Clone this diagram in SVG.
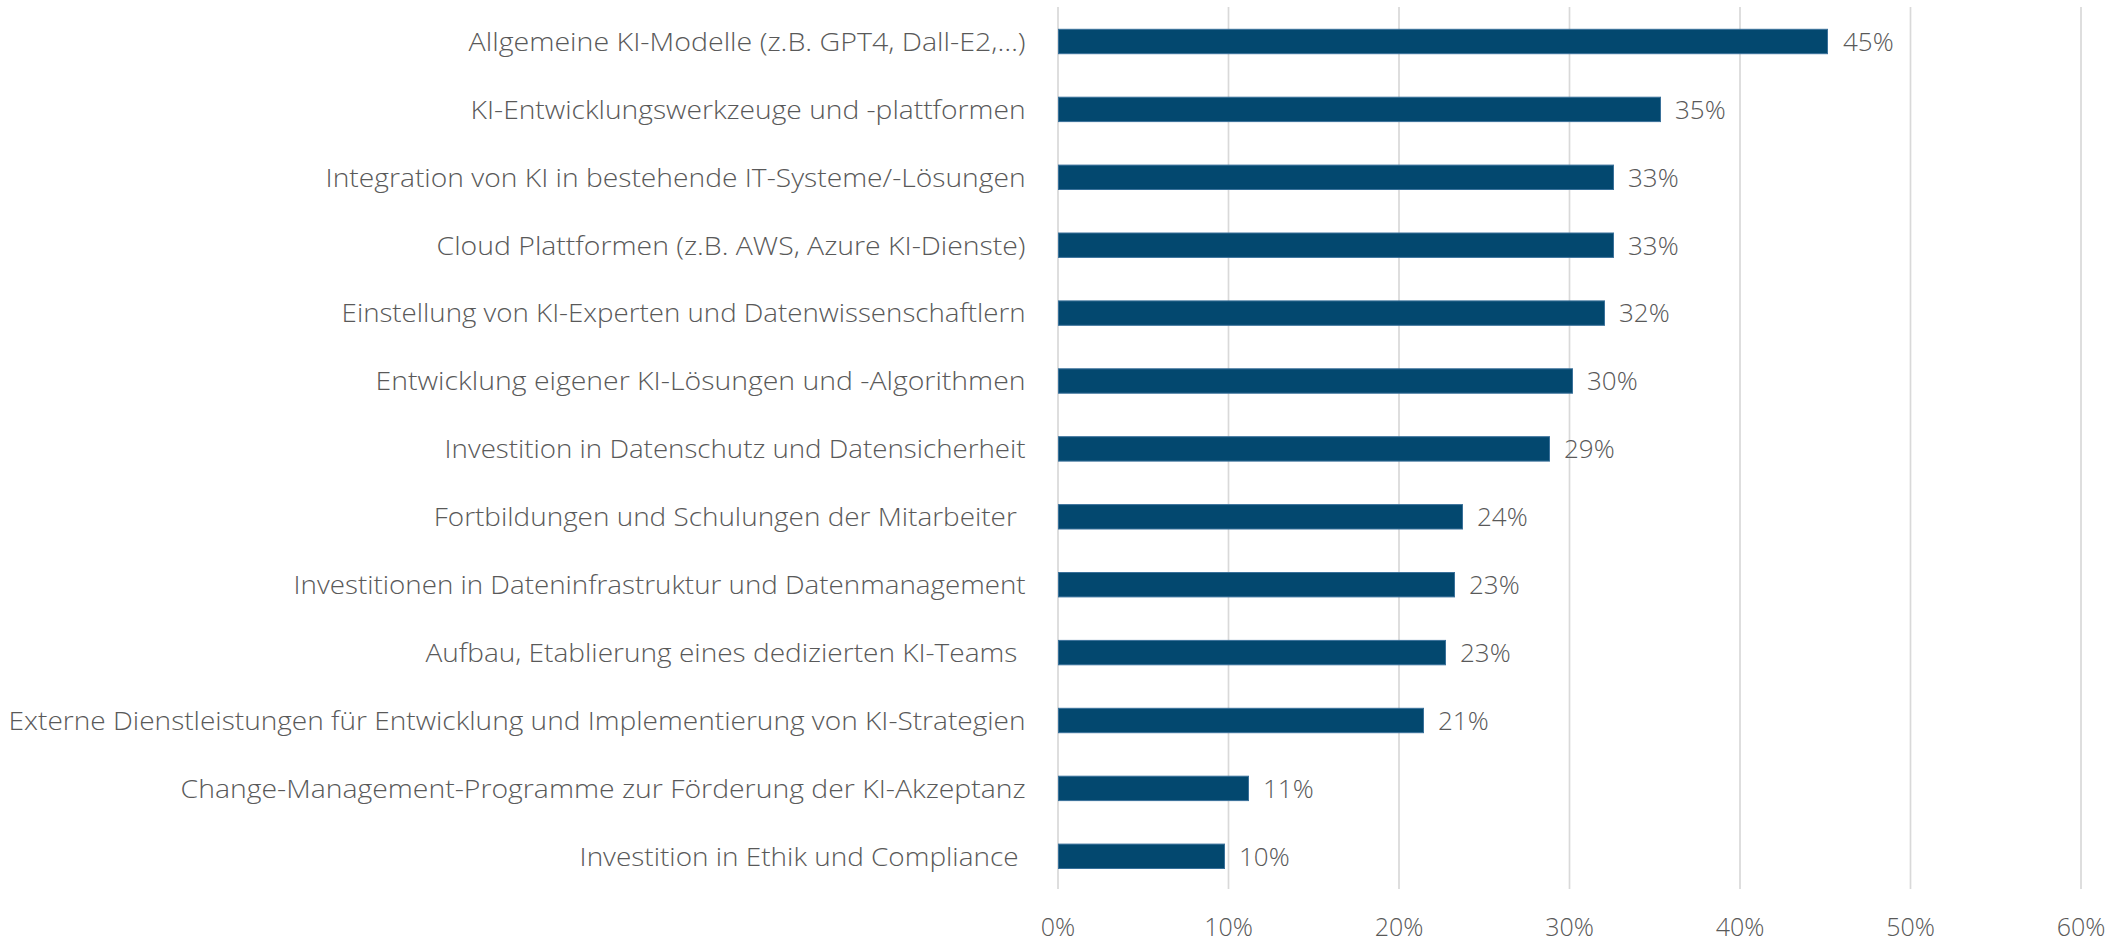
<svg xmlns="http://www.w3.org/2000/svg" width="2118" height="943" viewBox="0 0 2118 943">
<style>
.grid{stroke:#d9d9d9;stroke-width:1.7}
.bar{fill:#03486f;stroke:#3a719a;stroke-width:1}
.cat{font-family:"Open Sans","Liberation Sans",sans-serif;font-weight:300;font-size:26px;fill:#595959;text-anchor:end}
.val{font-family:"Open Sans","Liberation Sans",sans-serif;font-weight:300;font-size:26px;fill:#595959}
.ax{font-family:"Open Sans","Liberation Sans",sans-serif;font-weight:300;font-size:25px;fill:#595959;text-anchor:middle}
</style>
<rect width="2118" height="943" fill="#ffffff"/>
<g id="grid">
<line class="grid" x1="1058" y1="7" x2="1058" y2="889"/>
<line class="grid" x1="1228.5" y1="7" x2="1228.5" y2="889"/>
<line class="grid" x1="1399" y1="7" x2="1399" y2="889"/>
<line class="grid" x1="1569.5" y1="7" x2="1569.5" y2="889"/>
<line class="grid" x1="1740" y1="7" x2="1740" y2="889"/>
<line class="grid" x1="1910.5" y1="7" x2="1910.5" y2="889"/>
<line class="grid" x1="2081" y1="7" x2="2081" y2="889"/>
</g>
<g id="axis">
<text class="ax" x="1058" y="936">0%</text>
<text class="ax" x="1228.5" y="936">10%</text>
<text class="ax" x="1399" y="936">20%</text>
<text class="ax" x="1569.5" y="936">30%</text>
<text class="ax" x="1740" y="936">40%</text>
<text class="ax" x="1910.5" y="936">50%</text>
<text class="ax" x="2081" y="936">60%</text>
</g>
<g id="row1"><text class="cat" x="1025.6" y="50.8" textLength="557" lengthAdjust="spacingAndGlyphs">Allgemeine KI-Modelle (z.B. GPT4, Dall-E2,…)</text><rect class="bar" x="1058.5" y="29.3" width="769" height="24.4"/><text class="val" x="1843" y="50.8">45%</text></g>
<g id="row2"><text class="cat" x="1025.6" y="118.7" textLength="555" lengthAdjust="spacingAndGlyphs">KI-Entwicklungswerkzeuge und -plattformen</text><rect class="bar" x="1058.5" y="97.2" width="602" height="24.4"/><text class="val" x="1675" y="118.7">35%</text></g>
<g id="row3"><text class="cat" x="1025.6" y="186.6" textLength="700" lengthAdjust="spacingAndGlyphs">Integration von KI in bestehende IT-Systeme/-Lösungen</text><rect class="bar" x="1058.5" y="165.1" width="555" height="24.4"/><text class="val" x="1628" y="186.6">33%</text></g>
<g id="row4"><text class="cat" x="1025.6" y="254.5" textLength="589" lengthAdjust="spacingAndGlyphs">Cloud Plattformen (z.B. AWS, Azure KI-Dienste)</text><rect class="bar" x="1058.5" y="233" width="555" height="24.4"/><text class="val" x="1628" y="254.5">33%</text></g>
<g id="row5"><text class="cat" x="1025.6" y="322.4" textLength="684" lengthAdjust="spacingAndGlyphs">Einstellung von KI-Experten und Datenwissenschaftlern</text><rect class="bar" x="1058.5" y="300.9" width="546" height="24.4"/><text class="val" x="1619" y="322.4">32%</text></g>
<g id="row6"><text class="cat" x="1025.6" y="390.3" textLength="650" lengthAdjust="spacingAndGlyphs">Entwicklung eigener KI-Lösungen und -Algorithmen</text><rect class="bar" x="1058.5" y="368.8" width="514" height="24.4"/><text class="val" x="1587" y="390.3">30%</text></g>
<g id="row7"><text class="cat" x="1025.6" y="458.2" textLength="581" lengthAdjust="spacingAndGlyphs">Investition in Datenschutz und Datensicherheit</text><rect class="bar" x="1058.5" y="436.7" width="491" height="24.4"/><text class="val" x="1564" y="458.2">29%</text></g>
<g id="row8"><text class="cat" x="1016.8" y="526.1" textLength="583" lengthAdjust="spacingAndGlyphs">Fortbildungen und Schulungen der Mitarbeiter</text><rect class="bar" x="1058.5" y="504.6" width="404" height="24.4"/><text class="val" x="1477" y="526.1">24%</text></g>
<g id="row9"><text class="cat" x="1025.6" y="594" textLength="732" lengthAdjust="spacingAndGlyphs">Investitionen in Dateninfrastruktur und Datenmanagement</text><rect class="bar" x="1058.5" y="572.5" width="396" height="24.4"/><text class="val" x="1469" y="594">23%</text></g>
<g id="row10"><text class="cat" x="1017.4" y="661.9" textLength="592" lengthAdjust="spacingAndGlyphs">Aufbau, Etablierung eines dedizierten KI-Teams</text><rect class="bar" x="1058.5" y="640.4" width="387" height="24.4"/><text class="val" x="1460" y="661.9">23%</text></g>
<g id="row11"><text class="cat" x="1025.6" y="729.8" textLength="1017" lengthAdjust="spacingAndGlyphs">Externe Dienstleistungen für Entwicklung und Implementierung von KI-Strategien</text><rect class="bar" x="1058.5" y="708.3" width="365" height="24.4"/><text class="val" x="1438" y="729.8">21%</text></g>
<g id="row12"><text class="cat" x="1025.6" y="797.7" textLength="845" lengthAdjust="spacingAndGlyphs">Change-Management-Programme zur Förderung der KI-Akzeptanz</text><rect class="bar" x="1058.5" y="776.2" width="190" height="24.4"/><text class="val" x="1263" y="797.7">11%</text></g>
<g id="row13"><text class="cat" x="1018.6" y="865.6" textLength="439" lengthAdjust="spacingAndGlyphs">Investition in Ethik und Compliance</text><rect class="bar" x="1058.5" y="844.1" width="166" height="24.4"/><text class="val" x="1239" y="865.6">10%</text></g>
</svg>
